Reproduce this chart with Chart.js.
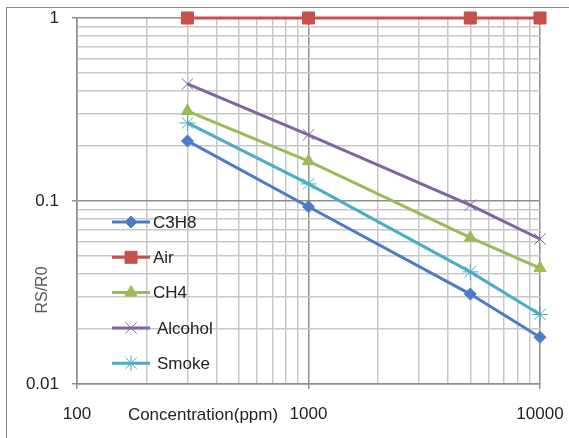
<!DOCTYPE html>
<html>
<head>
<meta charset="utf-8">
<script src="https://cdn.jsdelivr.net/npm/chart.js@4.4.1/dist/chart.umd.min.js"></script>
<style>
  html, body { margin: 0; padding: 0; background: #fff; }
  #wrap { width: 569px; height: 438px; position: relative; }
</style>
</head>
<body>
<div id="wrap"><canvas id="sensorChart"></canvas></div>
<script>
// Concentration (ppm) and RS/R0 readings per gas
const concentration = [300, 1000, 5000, 10000];
const seriesNames = ['C3H8', 'Air', 'CH4', 'Alcohol', 'Smoke'];
const c3h8 = [0.213, 0.093, 0.031, 0.018];
const air = [1, 1, 1, 1];
const ch4 = [0.31, 0.165, 0.063, 0.043];
const alcohol = [0.436, 0.23, 0.095, 0.062];
const smoke = [0.267, 0.124, 0.041, 0.024];
const xTickLabels = [100, 1000, 10000];
const yTickLabels = [0.01, 0.1, 1];

const FONT = '"Liberation Sans", Arial, sans-serif';
const MAJOR_GRID = '#8e8e8e';
const MINOR_GRID = '#c8c8c8';

// 1..9 steps inside each decade, so every log gridline gets drawn
function decadeTicks(min, max) {
    const out = [];
    for (let d = min; d < max - 1e-12; d *= 10) {
        for (let k = 1; k < 10; k++) out.push(Number((k * d).toPrecision(6)));
    }
    out.push(max);
    return out;
}

function toPoints(values) {
    return concentration.map((x, i) => ({ x: x, y: values[i] }));
}

const styles = [
    { color: '#4a7dc5', pointStyle: 'rectRot', radius: 6, pointBorderWidth: 1 },
    { color: '#c5504c', pointStyle: 'rect', radius: 8.5, pointBorderWidth: 1 },
    { color: '#9bbb59', pointStyle: 'triangle', radius: 7, pointBorderWidth: 1 },
    { color: '#8064a2', pointStyle: 'crossRot', radius: 8, pointBorderWidth: 1 },
    { color: '#4bacc6', pointStyle: 'star', radius: 8, pointBorderWidth: 1 }
];
const seriesValues = [c3h8, air, ch4, alcohol, smoke];

const datasets = seriesNames.map((name, i) => ({
    label: name,
    data: toPoints(seriesValues[i]),
    showLine: true,
    borderColor: styles[i].color,
    backgroundColor: styles[i].color,
    borderWidth: 3,
    pointStyle: styles[i].pointStyle,
    pointRadius: styles[i].radius,
    pointHoverRadius: styles[i].radius,
    pointBorderWidth: styles[i].pointBorderWidth,
    pointBackgroundColor: styles[i].color,
    pointBorderColor: styles[i].color,
    clip: false
}));

// frame, axis titles and the in-plot legend
const decorations = {
    id: 'decorations',
    beforeDraw(chart) {
        const ctx = chart.ctx;
        ctx.save();
        ctx.fillStyle = '#fff';
        ctx.fillRect(0, 0, chart.width, chart.height);
        ctx.strokeStyle = '#8a8a8a';
        ctx.lineWidth = 1;
        ctx.strokeRect(6.5, 7.5, chart.width + 20, chart.height + 20);
        ctx.restore();
    },
    afterDraw(chart) {
        const ctx = chart.ctx;
        const area = chart.chartArea;
        ctx.save();
        ctx.textBaseline = 'middle';

        ctx.font = '17px ' + FONT;
        ctx.fillStyle = '#222';
        ctx.textAlign = 'center';
        ctx.fillText('Concentration(ppm)', area.left + 126, area.bottom + 31);

        ctx.save();
        ctx.translate(43, 290);
        ctx.rotate(-Math.PI / 2);
        ctx.font = '16px ' + FONT;
        ctx.fillStyle = '#595959';
        ctx.fillText('RS/R0', 0, 0);
        ctx.restore();

        ctx.textAlign = 'left';
        ctx.font = '17px ' + FONT;
        chart.data.datasets.forEach((ds, i) => {
            const y = 222 + i * 35.3;
            ctx.strokeStyle = ds.borderColor;
            ctx.lineWidth = 3;
            ctx.beginPath();
            ctx.moveTo(112, y);
            ctx.lineTo(150, y);
            ctx.stroke();
            ctx.fillStyle = ds.backgroundColor;
            ctx.lineWidth = ds.pointBorderWidth;
            Chart.helpers.drawPoint(ctx, {
                pointStyle: ds.pointStyle,
                radius: ds.pointRadius,
                rotation: 0,
                borderWidth: ds.pointBorderWidth
            }, 131, y);
            ctx.fillStyle = '#222';
            ctx.fillText(ds.label, i >= 3 ? 157 : 153, y + 1);
        });
        ctx.restore();
    }
};

function isMajor(c, majors) {
    return c.tick && majors.includes(c.tick.value);
}
function gridColor(majors) {
    return (c) => isMajor(c, majors) ? MAJOR_GRID : MINOR_GRID;
}
function tickMarkColor(majors) {
    return (c) => isMajor(c, majors) ? MAJOR_GRID : 'rgba(0,0,0,0)';
}

const chart = new Chart(document.getElementById('sensorChart'), {
    type: 'scatter',
    data: { datasets: datasets },
    options: {
        responsive: true,
        maintainAspectRatio: false,
        animation: false,
        layout: { padding: { top: 18, right: 29, left: 0, bottom: 0 } },
        plugins: {
            legend: { display: false },
            tooltip: { enabled: false }
        },
        scales: {
            x: {
                type: 'logarithmic',
                min: 100,
                max: 10000,
                afterBuildTicks: (scale) => {
                    scale.ticks = decadeTicks(100, 10000).map(v => ({ value: v }));
                },
                afterFit: (scale) => {
                    scale.height = 54;
                    scale.paddingLeft = 0;
                    scale.paddingRight = 0;
                },
                ticks: {
                    autoSkip: false,
                    maxRotation: 0,
                    padding: 15,
                    color: '#222',
                    font: { family: FONT, size: 17 },
                    callback: (v) => xTickLabels.includes(v) ? String(v) : ''
                },
                grid: {
                    color: gridColor(xTickLabels),
                    tickColor: tickMarkColor(xTickLabels),
                    lineWidth: 1.5,
                    tickLength: 5
                },
                border: { color: MAJOR_GRID, width: 1.5 }
            },
            y: {
                type: 'logarithmic',
                min: 0.01,
                max: 1,
                afterBuildTicks: (scale) => {
                    scale.ticks = decadeTicks(0.01, 1).map(v => ({ value: v }));
                },
                afterFit: (scale) => {
                    scale.width = 77;
                    scale.paddingTop = 0;
                    scale.paddingBottom = 0;
                },
                ticks: {
                    autoSkip: false,
                    padding: 13,
                    color: '#222',
                    font: { family: FONT, size: 17 },
                    callback: (v) => yTickLabels.includes(v) ? String(v) : ''
                },
                grid: {
                    color: gridColor(yTickLabels),
                    tickColor: tickMarkColor(yTickLabels),
                    lineWidth: 1.5,
                    tickLength: 5
                },
                border: { color: MAJOR_GRID, width: 1.5 }
            }
        }
    },
    plugins: [decorations]
});
</script>
</body>
</html>
